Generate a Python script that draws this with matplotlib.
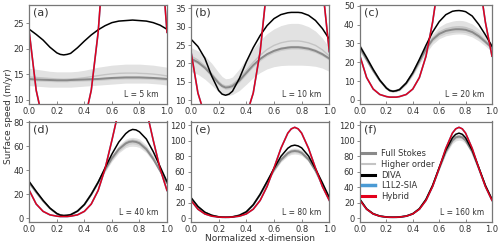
import matplotlib
matplotlib.use("Agg")
import matplotlib.pyplot as plt
from matplotlib.lines import Line2D

# normalized x positions (extra points near the trough and the peak)
x = [0.0, 0.05, 0.1, 0.15, 0.2, 0.225, 0.25, 0.275, 0.3, 0.35, 0.4, 0.45, 0.5, 0.55, 0.6,
     0.65, 0.7, 0.725, 0.75, 0.775, 0.8, 0.85, 0.9, 0.95, 1.0]

# Hybrid / L1L2-SIA (same for every L)
hybrid = [23.2, 11.9, 5.8, 2.9, 1.8, 1.5, 1.5, 1.5, 1.8, 2.9, 5.8, 11.9, 23.2, 41.2, 65.0,
          90.3, 110.0, 115.5, 117.5, 115.5, 110.0, 90.3, 65.0, 41.2, 23.2]
l1l2 = [23.2, 11.9, 5.8, 2.9, 1.8, 1.5, 1.5, 1.5, 1.8, 2.9, 5.8, 11.9, 23.2, 41.2, 65.0,
        90.3, 110.0, 115.5, 117.5, 115.5, 110.0, 90.3, 65.0, 41.2, 23.2]

# L = 5 km
diva_a = [23.8, 22.8, 21.7, 20.3, 19.2, 18.9, 18.8, 18.9, 19.1, 20.2, 21.5, 22.7, 23.7, 24.5, 25.1,
          25.4, 25.5, 25.55, 25.6, 25.55, 25.5, 25.4, 25.1, 24.6, 23.8]
fs_a = [14.1, 14.0, 13.95, 13.9, 13.85, 13.85, 13.85, 13.85, 13.9, 13.95, 14.0, 14.05, 14.1, 14.2, 14.3,
        14.35, 14.4, 14.4, 14.4, 14.4, 14.4, 14.35, 14.3, 14.2, 14.1]
ho_a = [14.5, 14.4, 14.3, 14.2, 14.1, 14.07, 14.05, 14.07, 14.1, 14.2, 14.35, 14.55, 14.75, 14.95, 15.1,
        15.2, 15.25, 15.25, 15.25, 15.25, 15.2, 15.15, 15.05, 14.9, 14.7]
lo_a = [12.8, 12.7, 12.6, 12.5, 12.5, 12.5, 12.5, 12.5, 12.5, 12.6, 12.7, 12.8, 12.9, 13.0, 13.1,
        13.2, 13.3, 13.3, 13.3, 13.3, 13.3, 13.3, 13.2, 13.1, 12.9]
hi_a = [16.2, 16.0, 15.8, 15.6, 15.5, 15.5, 15.5, 15.5, 15.5, 15.6, 15.8, 16.1, 16.4, 16.6, 16.8,
        16.9, 17.0, 17.0, 17.0, 17.0, 17.0, 16.9, 16.8, 16.6, 16.4]
sd_a = [0.3, 0.3, 0.3, 0.3, 0.3, 0.3, 0.3, 0.3, 0.3, 0.3, 0.3, 0.3, 0.3, 0.3, 0.3,
        0.3, 0.3, 0.3, 0.3, 0.3, 0.3, 0.3, 0.3, 0.3, 0.3]

# L = 10 km
diva_b = [26.6, 24.6, 21.4, 16.5, 12.6, 11.6, 11.3, 11.6, 12.4, 15.9, 20.4, 24.3, 27.6, 30.3, 32.2,
          33.3, 33.8, 33.9, 33.9, 33.9, 33.8, 33.1, 31.7, 29.5, 26.6]
fs_b = [21.3, 20.3, 18.8, 16.8, 14.6, 13.8, 13.4, 13.5, 13.8, 15.3, 17.4, 19.5, 21.2, 22.5, 23.4,
        24.0, 24.3, 24.4, 24.4, 24.4, 24.3, 24.0, 23.4, 22.5, 21.3]
ho_b = [22.0, 20.9, 19.3, 17.2, 15.0, 14.2, 13.8, 13.9, 14.3, 15.9, 18.1, 20.3, 22.2, 23.8, 24.9,
        25.6, 26.0, 26.1, 26.1, 26.1, 26.0, 25.6, 24.9, 23.7, 22.0]
lo_b = [17.8, 17.0, 15.7, 14.0, 12.2, 11.5, 11.2, 11.3, 11.5, 12.6, 14.3, 16.1, 17.5, 18.5, 19.1,
        19.4, 19.5, 19.5, 19.5, 19.5, 19.5, 19.4, 19.2, 18.7, 17.8]
hi_b = [24.3, 23.4, 22.0, 20.0, 17.5, 16.4, 15.8, 15.9, 16.3, 18.5, 21.3, 24.0, 26.3, 28.1, 29.4,
        30.3, 30.8, 30.9, 30.9, 30.9, 30.7, 30.0, 28.8, 26.9, 24.3]
sd_b = [0.5, 0.5, 0.5, 0.5, 0.5, 0.5, 0.5, 0.5, 0.5, 0.5, 0.5, 0.5, 0.5, 0.5, 0.5,
        0.5, 0.5, 0.5, 0.5, 0.5, 0.5, 0.5, 0.5, 0.5, 0.5]

# L = 20 km
diva_c = [28.5, 22.5, 16.2, 10.5, 6.3, 5.0, 4.6, 4.9, 5.5, 9.0, 14.5, 21.5, 29.0, 36.0, 41.5,
          45.2, 47.0, 47.3, 47.4, 47.2, 46.8, 44.5, 40.0, 34.5, 28.5]
fs_c = [27.5, 21.5, 15.5, 10.3, 6.3, 5.0, 4.6, 4.9, 5.5, 8.8, 14.0, 20.5, 27.0, 32.0, 35.0,
        36.6, 37.3, 37.5, 37.5, 37.4, 37.2, 36.0, 33.8, 30.8, 27.5]
ho_c = [27.8, 21.8, 15.8, 10.6, 6.5, 5.2, 4.8, 5.1, 5.7, 9.1, 14.4, 21.0, 27.6, 32.8, 36.0,
        37.7, 38.5, 38.7, 38.8, 38.7, 38.4, 37.2, 34.9, 31.6, 27.8]
lo_c = [25.5, 20.0, 14.5, 9.5, 5.6, 4.4, 4.0, 4.3, 4.8, 8.0, 12.8, 18.8, 24.8, 29.5, 32.5,
        34.0, 34.7, 34.9, 35.0, 34.9, 34.6, 33.4, 31.3, 28.6, 25.5]
hi_c = [29.8, 23.5, 17.0, 11.3, 7.0, 5.7, 5.3, 5.6, 6.3, 9.8, 15.4, 22.5, 29.5, 35.0, 38.8,
        40.8, 41.8, 42.1, 42.2, 42.1, 41.7, 40.3, 37.6, 33.8, 29.8]
sd_c = [0.6, 0.5, 0.4, 0.3, 0.2, 0.2, 0.2, 0.2, 0.2, 0.3, 0.4, 0.6, 0.8, 1.0, 1.2,
        1.4, 1.5, 1.5, 1.5, 1.5, 1.5, 1.4, 1.2, 0.9, 0.6]

# L = 40 km
diva_d = [30.5, 22.5, 15.0, 8.5, 4.0, 2.7, 2.3, 2.5, 3.0, 6.0, 11.5, 20.0, 30.0, 42.0, 53.5,
          63.5, 70.5, 72.8, 74.0, 73.6, 72.0, 66.0, 55.5, 43.0, 30.5]
fs_d = [29.5, 21.8, 14.5, 8.3, 3.9, 2.7, 2.3, 2.5, 3.0, 6.0, 11.5, 20.0, 30.0, 40.5, 50.0,
        57.5, 62.3, 63.6, 64.0, 63.6, 62.5, 57.5, 49.5, 39.5, 29.5]
ho_d = [29.7, 22.0, 14.6, 8.4, 3.9, 2.7, 2.3, 2.5, 3.0, 6.0, 11.6, 20.2, 30.3, 41.0, 50.7,
        58.3, 63.2, 64.5, 64.9, 64.5, 63.4, 58.3, 50.2, 40.0, 29.7]
lo_d = [28.0, 20.8, 13.9, 8.0, 3.7, 2.5, 2.1, 2.3, 2.8, 5.7, 11.0, 19.2, 28.8, 38.5, 47.5,
        54.5, 58.8, 59.8, 60.0, 59.8, 59.0, 54.5, 47.2, 37.8, 28.0]
hi_d = [31.0, 23.0, 15.3, 8.8, 4.2, 2.9, 2.5, 2.8, 3.3, 6.4, 12.2, 21.0, 31.5, 42.8, 52.8,
        61.0, 65.8, 67.0, 67.4, 67.0, 66.0, 61.0, 52.5, 41.5, 31.0]
sd_d = [0.6, 0.5, 0.3, 0.2, 0.1, 0.1, 0.1, 0.1, 0.1, 0.2, 0.3, 0.5, 0.8, 1.1, 1.5,
        1.8, 2.0, 2.0, 2.0, 2.0, 2.0, 1.8, 1.5, 1.1, 0.6]

# L = 80 km
diva_e = [27.0, 15.5, 8.0, 4.0, 2.0, 1.6, 1.5, 1.6, 2.0, 4.0, 8.5, 17.5, 31.0, 47.5, 64.5,
          80.0, 90.5, 93.5, 94.5, 93.5, 91.0, 80.5, 64.0, 46.0, 27.0]
fs_e = [25.5, 14.8, 7.7, 3.9, 2.0, 1.6, 1.5, 1.6, 2.0, 4.0, 8.5, 17.5, 31.0, 47.0, 62.5,
        75.5, 84.0, 86.3, 87.0, 86.4, 84.5, 76.0, 61.5, 43.5, 25.5]
ho_e = [25.8, 15.0, 7.8, 3.9, 2.0, 1.6, 1.5, 1.6, 2.0, 4.0, 8.6, 17.7, 31.4, 47.6, 63.3,
        76.5, 85.2, 87.5, 88.2, 87.6, 85.6, 77.0, 62.3, 44.1, 25.8]
lo_e = [24.5, 14.2, 7.4, 3.7, 1.9, 1.5, 1.4, 1.5, 1.9, 3.8, 8.2, 17.0, 30.0, 45.5, 60.5,
        72.8, 80.5, 82.5, 83.0, 82.5, 81.0, 73.2, 59.5, 42.0, 24.5]
hi_e = [26.5, 15.4, 8.0, 4.1, 2.1, 1.7, 1.6, 1.7, 2.1, 4.2, 8.8, 18.1, 32.0, 48.7, 64.8,
        78.5, 87.8, 90.3, 91.0, 90.3, 88.3, 79.3, 63.8, 45.2, 26.5]
sd_e = [0.4, 0.3, 0.2, 0.1, 0.1, 0.1, 0.1, 0.1, 0.1, 0.1, 0.2, 0.4, 0.7, 1.0, 1.4,
        1.8, 2.0, 2.1, 2.1, 2.1, 2.0, 1.8, 1.4, 1.0, 0.4]

# L = 160 km
diva_f = [24.5, 12.3, 6.0, 3.0, 1.8, 1.55, 1.5, 1.55, 1.8, 3.0, 6.0, 12.5, 24.5, 42.5, 65.5,
          88.0, 104.0, 108.5, 110.0, 108.5, 104.0, 88.0, 65.5, 42.5, 24.5]
fs_f = [24.0, 12.1, 5.9, 3.0, 1.8, 1.55, 1.5, 1.55, 1.8, 3.0, 6.0, 12.4, 24.3, 42.0, 64.5,
        86.0, 100.5, 104.5, 105.5, 104.5, 100.5, 86.0, 64.5, 42.0, 24.0]
ho_f = [24.2, 12.2, 6.0, 3.0, 1.8, 1.55, 1.5, 1.55, 1.8, 3.0, 6.0, 12.4, 24.4, 42.3, 65.0,
        87.0, 101.8, 105.8, 106.8, 105.8, 101.8, 87.0, 65.0, 42.3, 24.2]
lo_f = [23.5, 11.9, 5.8, 2.9, 1.7, 1.45, 1.4, 1.45, 1.7, 2.9, 5.9, 12.2, 23.8, 41.0, 62.5,
        83.0, 96.5, 100.0, 101.0, 100.0, 96.5, 83.0, 62.5, 41.0, 23.5]
hi_f = [24.6, 12.4, 6.1, 3.1, 1.9, 1.65, 1.6, 1.65, 1.9, 3.1, 6.1, 12.6, 24.7, 42.8, 66.0,
        88.5, 103.5, 107.5, 108.5, 107.5, 103.5, 88.5, 66.0, 42.8, 24.6]
sd_f = [0.3, 0.2, 0.1, 0.1, 0.1, 0.1, 0.1, 0.1, 0.1, 0.1, 0.1, 0.2, 0.4, 0.8, 1.2,
        1.6, 1.9, 2.0, 2.0, 2.0, 1.9, 1.6, 1.2, 0.8, 0.3]

panels = [
    ("(a)", "L = 5 km", diva_a, fs_a, ho_a, lo_a, hi_a, sd_a, (9.16, 28.6), [10, 15, 20, 25]),
    ("(b)", "L = 10 km", diva_b, fs_b, ho_b, lo_b, hi_b, sd_b, (8.83, 36.0), [10, 15, 20, 25, 30, 35]),
    ("(c)", "L = 20 km", diva_c, fs_c, ho_c, lo_c, hi_c, sd_c, (-2.3, 50.5), [0, 10, 20, 30, 40, 50]),
    ("(d)", "L = 40 km", diva_d, fs_d, ho_d, lo_d, hi_d, sd_d, (-3.3, 80.6), [0, 20, 40, 60, 80]),
    ("(e)", "L = 80 km", diva_e, fs_e, ho_e, lo_e, hi_e, sd_e, (-5.0, 125.0), [0, 20, 40, 60, 80, 100, 120]),
    ("(f)", "L = 160 km", diva_f, fs_f, ho_f, lo_f, hi_f, sd_f, (-5.0, 125.0), [0, 20, 40, 60, 80, 100, 120]),
]

# axes boxes in pixels (left, top, right, bottom) for a 500x248 figure
W, H = 500.0, 248.0
cols = [(29.3, 167.0), (191.0, 329.3), (360.0, 492.0)]
rows = [(4.7, 104.3), (121.5, 222.3)]

red = "#e3001b"
blue = "#4a9ad4"
fs_col = "#8a8a8a"
ho_col = "#c4c4c4"
band_col = "#e2e2e2"
fsband_col = "#cdcdcd"
spine_col = "#777777"
txt_col = "#333333"

fig = plt.figure(figsize=(5.0, 2.48), dpi=100)

for i, p in enumerate(panels):
    lab, ltxt, diva, fs, ho, lo, hi, sd, ylim, yt = p
    l, r = cols[i % 3]
    t, b = rows[i // 3]
    ax = fig.add_axes([l / W, 1 - b / H, (r - l) / W, (b - t) / H])

    ax.fill_between(x, lo, hi, color=band_col, lw=0)
    fs_lo = [v - s for v, s in zip(fs, sd)]
    fs_hi = [v + s for v, s in zip(fs, sd)]
    ax.fill_between(x, fs_lo, fs_hi, color=fsband_col, lw=0)
    ax.plot(x, ho, color=ho_col, lw=1.0)
    ax.plot(x, fs, color=fs_col, lw=1.4)
    ax.plot(x, l1l2, color=blue, lw=1.2)
    ax.plot(x, diva, color="black", lw=1.1)
    ax.plot(x, hybrid, color=red, lw=1.1)

    ax.set_xlim(0, 1)
    ax.set_ylim(*ylim)
    ax.set_xticks([0, 0.2, 0.4, 0.6, 0.8, 1.0])
    ax.set_xticklabels(["0.0", "0.2", "0.4", "0.6", "0.8", "1.0"])
    ax.set_yticks(yt)
    ax.tick_params(labelsize=6, colors=spine_col, labelcolor=txt_col, length=2,
                   width=0.6, pad=2)
    ax.tick_params(axis="x", direction="in")
    for s in ax.spines.values():
        s.set_color(spine_col)
        s.set_linewidth(0.9)

    ax.text(0.03, 0.97, lab, transform=ax.transAxes, ha="left", va="top",
            fontsize=8, color=txt_col)
    ax.text(0.94, 0.05, ltxt, transform=ax.transAxes, ha="right", va="bottom",
            fontsize=5.5, color=txt_col)

    if i == 5:
        handles = [Line2D([], [], color=fs_col, lw=2.2),
                   Line2D([], [], color=ho_col, lw=1.5),
                   Line2D([], [], color="black", lw=2.2),
                   Line2D([], [], color=blue, lw=2.5),
                   Line2D([], [], color=red, lw=2.2)]
        names = ["Full Stokes", "Higher order", "DIVA", "L1L2-SIA", "Hybrid"]
        ax.legend(handles, names, loc="upper left", bbox_to_anchor=(0.0, 0.74),
                  frameon=False, fontsize=6, handlelength=1.6, handletextpad=0.7,
                  labelspacing=0.2, borderpad=0, borderaxespad=0.2,
                  labelcolor=txt_col)

fig.text(0.018, 0.53, "Surface speed (m/yr)", rotation=90, ha="center",
         va="center", fontsize=6.5, color=txt_col)
fig.text(0.52, 0.04, "Normalized x-dimension", ha="center", va="center",
         fontsize=6.5, color=txt_col)

fig.savefig("out.png", dpi=100)
